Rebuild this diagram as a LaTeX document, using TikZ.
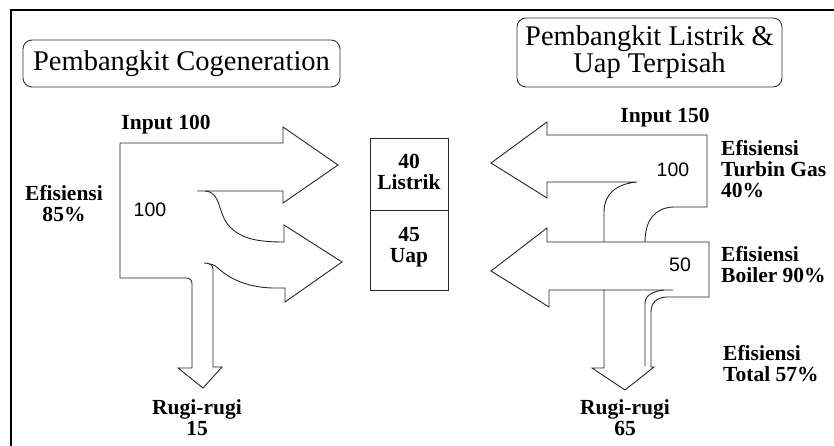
\documentclass[tikz,border=0pt]{standalone}
\usepackage{fontspec}
\setmainfont{Liberation Serif}
\newfontfamily\numfont{Liberation Sans}
\begin{document}
\begin{tikzpicture}[x=1pt,y=-1pt,
  flow/.style={draw=black!85,line width=0.9pt,line join=miter},
  frame/.style={draw=black,line width=2pt},
  titlebox/.style={draw=black!80,line width=0.9pt,rounded corners=9pt},
  lbl/.style={font=\bfseries\fontsize{21.5}{21}\selectfont,align=center,inner sep=0pt},
  lbll/.style={font=\bfseries\fontsize{21.5}{21}\selectfont,align=left,inner sep=0pt,anchor=west},
  num/.style={font=\numfont\fontsize{19.5}{20}\selectfont,inner sep=0pt},
  ttl/.style={font=\fontsize{28.5}{25.5}\selectfont,align=center,inner sep=0pt}]
\useasboundingbox (0,0) rectangle (834,446);
% frame
\draw[frame] (11,446) -- (11,10) -- (834,10);
% titles
\draw[titlebox] (23,40) rectangle (340,87);
\node[ttl] (t1) at (181.5,64) {Pembangkit Cogeneration};
\draw[titlebox] (517,18) rectangle (782,87);
\node[ttl] (t2) at (649.5,52) {Pembangkit Listrik \&\\Uap Terpisah};
% ---------- left sankey ----------
\draw[flow] (197,191) -- (283,191) -- (283,203) -- (338,165) -- (283,127) -- (283,143) -- (120,143)
  -- (120,278) -- (186,278) .. controls (190,278) and (192,280) .. (192,284) -- (192,368)
  -- (178,368) -- (203,388) -- (222,367) -- (213,367) -- (213,269)
  .. controls (213,265) and (210,263) .. (204,263);
\draw[flow] (205,191) .. controls (222,192) and (217,214) .. (230,227)
  .. controls (242,239) and (258,242) .. (284,242) -- (284,225) -- (342,262) -- (285,302) -- (285,288)
  -- (272,288) .. controls (245,287) and (230,278) .. (220,270)
  .. controls (216,266) and (213,264) .. (209,264);
% center box
\draw[flow] (370,138) rectangle (448,290);
\draw[flow] (370,210) -- (448,210);
\node[lbl] (el) at (409,172) {40\\Listrik};
\node[lbl] (st) at (409,247) {45\\Uap};
% ---------- right sankey ----------
% upper arrow
\draw[flow] (604,242) -- (604,212) .. controls (604,195) and (615,184) .. (637,182) -- (547,182) -- (547,198)
  -- (491,163) -- (547,122) -- (547,135) -- (707,135) -- (707,207) -- (673,207)
  .. controls (655,208) and (645,220) .. (645,242);
% lower arrow
\draw[flow] (673,290) -- (549,290) -- (549,307) -- (491,271) -- (547,228) -- (547,242) -- (709,242)
  -- (709,297) -- (666,297) .. controls (656,298) and (651,303) .. (651,312) -- (651,367)
  -- (654,367) -- (625,390) -- (592,368) -- (604,368) -- (604,290);
\draw[flow] (664,290) .. controls (654,291) and (645,295) .. (645,303) -- (645,366);
% labels
\node[lbl] (in1) at (166,125) {Input 100};
\node[lbl] (ef1) at (64,204) {Efisiensi\\85\%};
\node[num] (n1) at (150,210) {100};
\node[lbl] (rg1) at (197,418) {Rugi-rugi\\15};
\node[lbl] (in2) at (665,118) {Input 150};
\node[num] (n2) at (673,170) {100};
\node[num] (n3) at (680,265) {50};
\node[lbll] (eft) at (721,169) {Efisiensi\\Turbin Gas\\40\%};
\node[lbll] (efb) at (721,265) {Efisiensi\\Boiler 90\%};
\node[lbll] (eftt) at (723,364) {Efisiensi\\Total 57\%};
\node[lbl] (rg2) at (625,418) {Rugi-rugi\\65};
\end{tikzpicture}
\end{document}
